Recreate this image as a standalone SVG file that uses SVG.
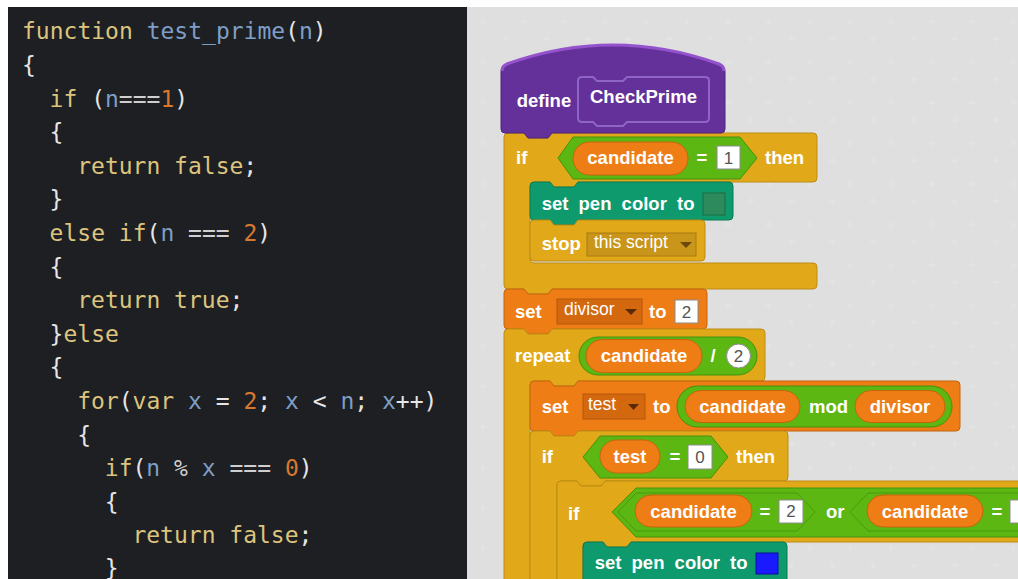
<svg xmlns="http://www.w3.org/2000/svg" width="1018" height="579" viewBox="0 0 1018 579">
<defs>
<style>
.code{font-family:"DejaVu Sans Mono","Liberation Mono",monospace;font-size:23px;fill:#e6e6e6}
.k{fill:#dcc47f}.v{fill:#7d9ec6}.n{fill:#d9782d}.o{fill:#cfcfcf}
.lbl{font-family:"Liberation Sans",Arial,sans-serif;font-weight:bold;font-size:18.5px;fill:#fff;word-spacing:5px}
.mid{text-anchor:middle}
.dd{font-family:"Liberation Sans",Arial,sans-serif;font-size:17.5px;fill:#fff}
.num{font-family:"Liberation Sans",Arial,sans-serif;font-size:17px;fill:#555;text-anchor:middle}
.ctl{fill:#e1a91a;stroke:#bd8c12;stroke-width:1}
.var{fill:#ee7d16;stroke:#c4650e;stroke-width:1}
.op{fill:#5cb712;stroke:#46900c;stroke-width:1}
.opin{fill:#5cb712;stroke:#4a990d;stroke-width:1}
.pen{fill:#0e9a6c;stroke:#0a7a55;stroke-width:1}
.more{fill:#633199;stroke:#4d2279;stroke-width:1}
.box{fill:#fff;stroke:#8c8c8c;stroke-width:1}
.ddv{fill:#d4680f;stroke:#b4570b;stroke-width:1}
.ddc{fill:#c9951a;stroke:#a97b10;stroke-width:1}
.cross{stroke:#e4e5e4;stroke-width:1.2}
</style>
<pattern id="grid" patternUnits="userSpaceOnUse" x="881" y="12" width="40.8" height="40.5">
<path class="cross" d="M6.5,10 H13.5 M10,6.5 V13.5 M29.5,27 H36.5 M33,23.5 V30.5"/>
</pattern>
</defs>
<rect x="0" y="0" width="1018" height="579" fill="#ffffff"/>
<g id="code-panel">
<rect x="8" y="7" width="459" height="572" fill="#1e1f22"/>
<text class="code" xml:space="preserve" x="22" y="39.3"><tspan class="k">function</tspan> <tspan class="v">test_prime</tspan>(<tspan class="v">n</tspan>)</text>
<text class="code" x="22" y="72.9">{</text>
<text class="code" xml:space="preserve" x="49.6" y="106.5"><tspan class="k">if</tspan> (<tspan class="v">n</tspan><tspan class="o">===</tspan><tspan class="n">1</tspan>)</text>
<text class="code" x="49.6" y="140.1">{</text>
<text class="code" xml:space="preserve" x="77.2" y="173.7"><tspan class="k">return false</tspan>;</text>
<text class="code" x="49.6" y="207.3">}</text>
<text class="code" xml:space="preserve" x="49.6" y="240.9"><tspan class="k">else if</tspan>(<tspan class="v">n</tspan><tspan class="o"> === </tspan><tspan class="n">2</tspan>)</text>
<text class="code" x="49.6" y="274.5">{</text>
<text class="code" xml:space="preserve" x="77.2" y="308.1"><tspan class="k">return true</tspan>;</text>
<text class="code" xml:space="preserve" x="49.6" y="341.7">}<tspan class="k">else</tspan></text>
<text class="code" x="49.6" y="375.3">{</text>
<text class="code" xml:space="preserve" x="77.2" y="408.9"><tspan class="k">for</tspan>(<tspan class="k">var</tspan> <tspan class="v">x</tspan> = <tspan class="n">2</tspan>; <tspan class="v">x</tspan> &lt; <tspan class="v">n</tspan>; <tspan class="v">x</tspan>++)</text>
<text class="code" x="77.2" y="442.5">{</text>
<text class="code" xml:space="preserve" x="104.8" y="476.1"><tspan class="k">if</tspan>(<tspan class="v">n</tspan><tspan class="o"> % </tspan><tspan class="v">x</tspan><tspan class="o"> === </tspan><tspan class="n">0</tspan>)</text>
<text class="code" x="104.8" y="509.7">{</text>
<text class="code" xml:space="preserve" x="132.4" y="543.3"><tspan class="k">return false</tspan>;</text>
<text class="code" x="104.8" y="575.5">}</text>
</g>
<g id="scratch-panel">
<rect x="467" y="7" width="551" height="572" fill="#dedfde"/>
<rect x="467" y="7" width="551" height="572" fill="url(#grid)"/>
</g>
<g id="if-candidate-1">
<path class="ctl" d="M 504,137 Q 504,133 508,133 L 524,133 L 528,138 L 548,138 L 552,133 L 813,133 Q 817,133 817,137 L 817,178 Q 817,182 813,182 L 578,182 L 574,187 L 554,187 L 550,182 L 534,182 Q 530,182 530,186 L 530,259 Q 530,263 534,263 L 813,263 Q 817,263 817,267 L 817,285 Q 817,289 813,289 L 552,289 L 548,294 L 528,294 L 524,289 L 508,289 Q 504,289 504,285 Z"/>
<text class="lbl" x="516" y="164">if</text>
<polygon class="op" points="558,158 573,137 740,137 757,158 740,179 573,179"/>
<rect class="var" x="573" y="142" width="115" height="33" rx="16.5"/>
<text class="lbl mid" x="630.5" y="164">candidate</text>
<text class="lbl mid" x="702" y="164">=</text>
<rect class="box" x="717" y="146" width="23" height="23"/>
<text class="num" x="728.5" y="164">1</text>
<text class="lbl" x="765" y="164">then</text>
</g>
<g id="set-pen-color-1">
<path class="pen" d="M 530,186 Q 530,182 534,182 L 550,182 L 554,187 L 574,187 L 578,182 L 729,182 Q 733,182 733,186 L 733,216 Q 733,220 729,220 L 578,220 L 574,225 L 554,225 L 550,220 L 534,220 Q 530,220 530,216 Z"/>
<text class="lbl" x="541.7" y="210">set pen color to</text>
<rect x="703" y="193" width="22" height="22" fill="#2d8a5c" stroke="#1e6a45" stroke-width="1"/>
</g>
<g id="stop-this-script">
<path class="ctl" d="M 530,224 Q 530,220 534,220 L 550,220 L 554,225 L 574,225 L 578,220 L 701,220 Q 705,220 705,224 L 705,257 Q 705,261 701,261 L 534,261 Q 530,261 530,257 Z"/>
<text class="lbl" x="541.7" y="250">stop</text>
<rect class="ddc" x="587" y="233" width="109" height="23"/>
<text class="dd" x="594" y="247.5">this script</text>
<polygon points="680,242 692,242 686,248" fill="#6a4a0c"/>
</g>
<g id="define-checkprime">
<path class="more" d="M 501,72 Q 501,66 507,64 Q 613,26 719,64 Q 725,66 725,72 L 725,129 Q 725,133 721,133 L 552,133 L 548,138 L 528,138 L 524,133 L 505,133 Q 501,133 501,129 Z"/>
<path d="M 502,71 Q 502,66 507,64 Q 613,26 719,64 Q 724,66 724,71" fill="none" stroke="#9452cc" stroke-width="3"/>
<text class="lbl" x="516.7" y="106.7">define</text>
<path d="M 582,77 L 593,77 L 597,81 L 623,81 L 627,77 L 705,77 Q 709,77 709,81 L 709,118 Q 709,122 705,122 L 627,122 L 623,126 L 597,126 L 593,122 L 582,122 Q 578,122 578,118 L 578,81 Q 578,77 582,77 Z" fill="#633199" stroke="#8e64c4" stroke-width="2"/>
<text class="lbl" x="590" y="103">CheckPrime</text>
</g>
<g id="set-divisor">
<path class="var" d="M 504,293 Q 504,289 508,289 L 524,289 L 528,294 L 548,294 L 552,289 L 703,289 Q 707,289 707,293 L 707,325 Q 707,329 703,329 L 552,329 L 548,334 L 528,334 L 524,329 L 508,329 Q 504,329 504,325 Z"/>
<text class="lbl" x="515" y="318">set</text>
<rect class="ddv" x="557" y="299" width="85" height="25"/>
<text class="dd" x="564" y="315">divisor</text>
<polygon points="625,309 637,309 631,315" fill="#5a2a05"/>
<text class="lbl" x="649" y="318">to</text>
<rect class="box" x="675" y="300" width="23" height="23"/>
<text class="num" x="686.5" y="318">2</text>
</g>
<g id="repeat">
<path class="ctl" d="M 504,333 Q 504,329 508,329 L 524,329 L 528,334 L 548,334 L 552,329 L 761,329 Q 765,329 765,333 L 765,377 Q 765,381 761,381 L 578,381 L 574,386 L 554,386 L 550,381 L 534,381 Q 530,381 530,385 L 530,600 L 504,600 Z"/>
<text class="lbl" x="515" y="362">repeat</text>
<rect class="op" x="579" y="337" width="178" height="38" rx="19"/>
<rect class="var" x="586" y="339.5" width="116" height="33" rx="16.5"/>
<text class="lbl mid" x="644" y="362">candidate</text>
<text class="lbl mid" x="713" y="362">/</text>
<circle cx="738.5" cy="356" r="12" fill="#fff" stroke="#8c8c8c" stroke-width="1"/>
<text class="num" x="738.5" y="362">2</text>
</g>
<g id="set-test">
<path class="var" d="M 530,385 Q 530,381 534,381 L 550,381 L 554,386 L 574,386 L 578,381 L 956,381 Q 960,381 960,385 L 960,427 Q 960,431 956,431 L 578,431 L 574,436 L 554,436 L 550,431 L 534,431 Q 530,431 530,427 Z"/>
<text class="lbl" x="541.7" y="413">set</text>
<rect class="ddv" x="583" y="394" width="62" height="25"/>
<text class="dd" x="588" y="410">test</text>
<polygon points="628,404 639,404 633.5,410" fill="#5a2a05"/>
<text class="lbl" x="653" y="413">to</text>
<rect class="op" x="677" y="386" width="275" height="41" rx="20.5"/>
<rect class="var" x="685" y="390.5" width="115" height="32" rx="16"/>
<text class="lbl mid" x="742.5" y="413">candidate</text>
<text class="lbl" x="809" y="413">mod</text>
<rect class="var" x="855" y="390.5" width="90" height="32" rx="16"/>
<text class="lbl mid" x="900" y="413">divisor</text>
</g>
<g id="if-test-0">
<path class="ctl" d="M 530,435 Q 530,431 534,431 L 550,431 L 554,436 L 574,436 L 578,431 L 784,431 Q 788,431 788,435 L 788,477 Q 788,481 784,481 L 605,481 L 601,486 L 581,486 L 577,481 L 561,481 Q 557,481 557,485 L 557,600 L 530,600 Z"/>
<text class="lbl" x="541.7" y="463">if</text>
<polygon class="op" points="583,457 600,436 711,436 728,457 711,478 600,478"/>
<rect class="var" x="600" y="440" width="60" height="33" rx="16.5"/>
<text class="lbl mid" x="630" y="463">test</text>
<text class="lbl mid" x="675" y="463">=</text>
<rect class="box" x="688" y="445" width="24" height="24"/>
<text class="num" x="700" y="463">0</text>
<text class="lbl" x="736" y="463">then</text>
</g>
<g id="if-candidate-2-or">
<path class="ctl" d="M 557,485 Q 557,481 561,481 L 577,481 L 581,486 L 601,486 L 605,481 L 1030,481 L 1030,542 L 631,542 L 627,547 L 607,547 L 603,542 L 587,542 Q 583,542 583,546 L 583,600 L 557,600 Z"/>
<text class="lbl" x="568" y="520">if</text>
<polygon class="op" points="612,512 636,488 1030,488 1030,537 636,537"/>
<polygon class="opin" points="618,512 636,493 797,493 815,512 797,531 636,531"/>
<polygon class="opin" points="850,512 868,493 1030,493 1030,531 868,531"/>
<rect class="var" x="635" y="495" width="117" height="32" rx="16"/>
<text class="lbl mid" x="693.5" y="518">candidate</text>
<text class="lbl mid" x="765" y="518">=</text>
<rect class="box" x="779" y="500" width="24" height="23"/>
<text class="num" x="791" y="517">2</text>
<text class="lbl" x="826" y="518">or</text>
<rect class="var" x="867" y="495" width="116" height="32" rx="16"/>
<text class="lbl mid" x="925" y="518">candidate</text>
<text class="lbl mid" x="997" y="518">=</text>
<rect class="box" x="1010" y="500" width="24" height="23"/>
</g>
<g id="set-pen-color-2">
<path class="pen" d="M 583,546 Q 583,542 587,542 L 603,542 L 607,547 L 627,547 L 631,542 L 783,542 Q 787,542 787,546 L 787,600 L 583,600 Z"/>
<text class="lbl" x="594.7" y="569">set pen color to</text>
<rect x="756" y="553" width="22" height="21" fill="#1a1aff" stroke="#0d0d99" stroke-width="1"/>
</g>
</svg>
